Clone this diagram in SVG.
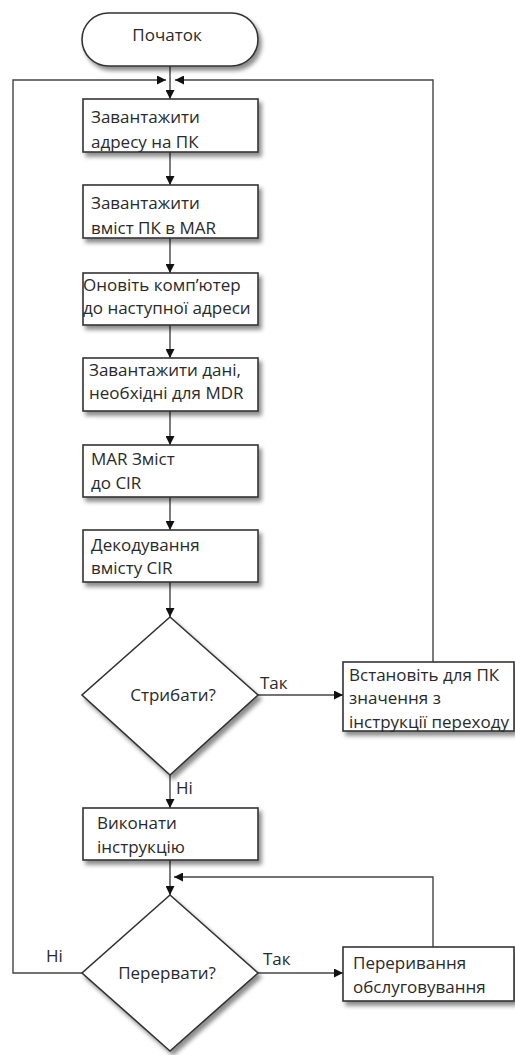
<svg xmlns="http://www.w3.org/2000/svg" width="515" height="1055" viewBox="0 0 515 1055">
  <defs>
    <filter id="shadow" x="-10%" y="-10%" width="130%" height="140%">
      <feDropShadow dx="3" dy="4" stdDeviation="2.2" flood-color="#000" flood-opacity="0.45"/>
    </filter>
    <marker id="arrow" viewBox="0 0 10 10" refX="10" refY="5" markerWidth="9" markerHeight="9" markerUnits="userSpaceOnUse" orient="auto">
      <path d="M0,0 L10,5 L0,10 z" fill="#111"/>
    </marker>
  </defs>
  <style>
    .shape { fill: #fff; stroke: #333; stroke-width: 1.6; filter: url(#shadow); }
    .lbl { font-family: "Open Sans", "Noto Sans", sans-serif; font-size: 17px; fill: #2a2a2a; }
    .mid { text-anchor: middle; }
    .edge { fill: none; stroke: #444; stroke-width: 1.4; }
    .arr { marker-end: url(#arrow); }
  </style>
  <rect width="515" height="1055" fill="#fff"/>

  <!-- connectors -->
  <g id="connectors">
    <line class="edge arr" x1="170" y1="66" x2="170" y2="99"/>
    <polyline class="edge arr" points="82,973 13,973 13,80 166,80"/>
    <polyline class="edge arr" points="433,662 433,80 175,80"/>
    <line class="edge arr" x1="170" y1="152" x2="170" y2="185"/>
    <line class="edge arr" x1="170" y1="238" x2="170" y2="273"/>
    <line class="edge arr" x1="170" y1="325" x2="170" y2="358"/>
    <line class="edge arr" x1="170" y1="411" x2="170" y2="445"/>
    <line class="edge arr" x1="170" y1="497" x2="170" y2="530"/>
    <line class="edge arr" x1="170" y1="582" x2="170" y2="617"/>
    <line class="edge arr" x1="258" y1="695" x2="343" y2="695"/>
    <line class="edge arr" x1="170" y1="775" x2="170" y2="808"/>
    <line class="edge arr" x1="170" y1="860" x2="170" y2="895"/>
    <polyline class="edge arr" points="433,947 433,877 174,877"/>
    <line class="edge arr" x1="258" y1="973" x2="343" y2="973"/>
    <text class="lbl" x="260" y="689">Так</text>
    <text class="lbl" x="176" y="794">Ні</text>
    <text class="lbl" x="46" y="962">Ні</text>
    <text class="lbl" x="263" y="965">Так</text>
  </g>

  <g id="start">
    <rect class="shape" x="82" y="13" width="176" height="53" rx="26.5" ry="26.5"/>
    <text class="lbl mid" x="167" y="41">Початок</text>
  </g>

  <g id="load-address">
    <rect class="shape" x="83" y="99" width="175" height="53"/>
    <text class="lbl" x="91" y="123">Завантажити</text>
    <text class="lbl" x="91" y="148">адресу на ПК</text>
  </g>

  <g id="load-pc-mar">
    <rect class="shape" x="83" y="185" width="175" height="53"/>
    <text class="lbl" x="91" y="209">Завантажити</text>
    <text class="lbl" x="91" y="234">вміст ПК в MAR</text>
  </g>

  <g id="update-pc">
    <rect class="shape" x="83" y="273" width="175" height="52"/>
    <text class="lbl" x="83" y="291">Оновіть комп’ютер</text>
    <text class="lbl" x="83" y="314">до наступної адреси</text>
  </g>

  <g id="load-mdr">
    <rect class="shape" x="83" y="358" width="175" height="53"/>
    <text class="lbl" x="89" y="376">Завантажити дані,</text>
    <text class="lbl" x="89" y="399">необхідні для MDR</text>
  </g>

  <g id="mar-to-cir">
    <rect class="shape" x="83" y="445" width="175" height="52"/>
    <text class="lbl" x="91" y="465">MAR Зміст</text>
    <text class="lbl" x="91" y="489">до CIR</text>
  </g>

  <g id="decode">
    <rect class="shape" x="83" y="530" width="175" height="52"/>
    <text class="lbl" x="91" y="551">Декодування</text>
    <text class="lbl" x="91" y="574">вмісту CIR</text>
  </g>

  <g id="jump">
    <polygon class="shape" points="170,617 258,695 170,775 82,695"/>
    <text class="lbl mid" x="173" y="701">Стрибати?</text>
  </g>

  <g id="set-pc">
    <rect class="shape" x="343" y="662" width="171" height="69"/>
    <text class="lbl" x="349" y="681">Встановіть для ПК</text>
    <text class="lbl" x="349" y="704">значення з</text>
    <text class="lbl" x="349" y="728">інструкції переходу</text>
  </g>

  <g id="execute">
    <rect class="shape" x="83" y="808" width="175" height="52"/>
    <text class="lbl" x="97" y="829">Виконати</text>
    <text class="lbl" x="97" y="853">інструкцію</text>
  </g>

  <g id="interrupt">
    <polygon class="shape" points="170,895 258,973 170,1051 82,973"/>
    <text class="lbl mid" x="167" y="979">Перервати?</text>
  </g>

  <g id="service">
    <rect class="shape" x="343" y="947" width="171" height="54"/>
    <text class="lbl" x="353" y="969">Переривання</text>
    <text class="lbl" x="353" y="993">обслуговування</text>
  </g>
</svg>
